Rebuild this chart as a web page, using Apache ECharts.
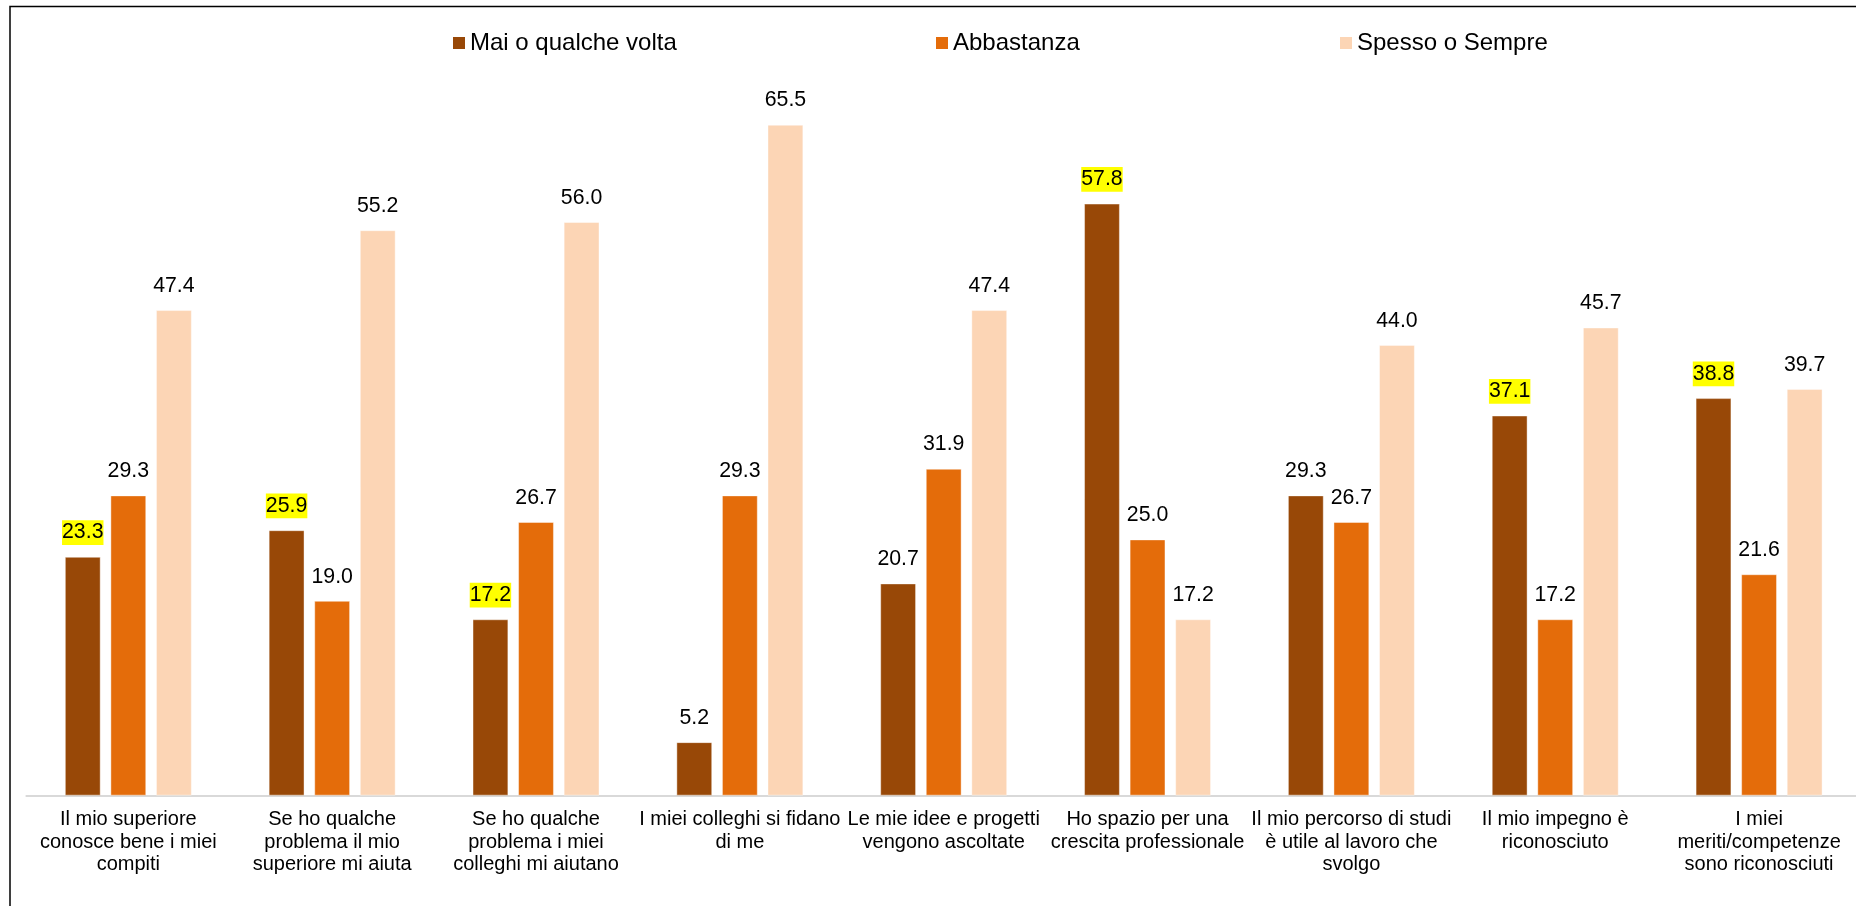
<!DOCTYPE html>
<html>
<head>
<meta charset="utf-8">
<style>
  html, body { margin: 0; padding: 0; background: #fff; overflow: hidden; }
  /* the plot runs slightly past the right edge of the window */
  #chart { width: 1861px; height: 906px; }
</style>
<script src="https://cdn.jsdelivr.net/npm/echarts@6/dist/echarts.min.js"></script>
</head>
<body>
<div id="chart"></div>
<script>
// Survey items (axis labels, wrapped as printed)
const categories = [
  'Il mio superiore\nconosce bene i miei\ncompiti',
  'Se ho qualche\nproblema il mio\nsuperiore mi aiuta',
  'Se ho qualche\nproblema i miei\ncolleghi mi aiutano',
  'I miei colleghi si fidano\ndi me',
  'Le mie idee e progetti\nvengono ascoltate',
  'Ho spazio per una\ncrescita professionale',
  'Il mio percorso di studi\nè utile al lavoro che\nsvolgo',
  'Il mio impegno è\nriconosciuto',
  'I miei\nmeriti/competenze\nsono riconosciuti'
];

const seriesNames = ['Mai o qualche volta', 'Abbastanza', 'Spesso o Sempre'];

// Percentages per answer group
const maiValues = [23.3, 25.9, 17.2, 5.2, 20.7, 57.8, 29.3, 37.1, 38.8];
const abbastanzaValues = [29.3, 19.0, 26.7, 29.3, 31.9, 25.0, 26.7, 17.2, 21.6];
const spessoValues = [47.4, 55.2, 56.0, 65.5, 47.4, 17.2, 44.0, 45.7, 39.7];

// Which "Mai o qualche volta" values carry a yellow highlight
const maiHighlighted = [true, true, true, false, false, true, false, true, true];

const colors = ['#984807', '#E46C0A', '#FCD5B5'];
const FONT = '"Liberation Sans", Arial, sans-serif';

const labelStyle = {
  show: true,
  position: 'top',
  distance: 12,
  color: '#000',
  fontFamily: FONT,
  fontSize: 21.3,
  lineHeight: 24.7,
  padding: [0, 0],
  formatter: p => Number(p.value).toFixed(1)
};

function barSeries(name, values, color, highlight) {
  return {
    name: name,
    type: 'bar',
    barWidth: 35.6,
    barGap: '28%',
    itemStyle: { color: color, borderColor: 'rgba(255,255,255,0.55)', borderWidth: 0.75 },
    label: labelStyle,
    data: values.map((v, i) => (highlight && highlight[i])
      ? { value: v, label: { backgroundColor: '#FFFF00' } }
      : v)
  };
}

function legendAt(name, left) {
  return {
    data: [name],
    left: left,
    top: 31,
    padding: 0,
    icon: 'rect',
    itemWidth: 12,
    itemHeight: 12,
    itemStyle: { borderWidth: 0 },
    textStyle: { fontFamily: FONT, fontSize: 24, lineHeight: 24, color: '#000' },
    selectedMode: false
  };
}

const chart = echarts.init(document.getElementById('chart'), null, { renderer: 'canvas' });

chart.setOption({
  animation: false,
  backgroundColor: '#fff',
  color: colors,
  legend: [
    legendAt(seriesNames[0], 453),
    legendAt(seriesNames[1], 936),
    legendAt(seriesNames[2], 1340)
  ],
  grid: { left: 26.4, top: 78.8, right: 0, height: 716.7, containLabel: false },
  xAxis: {
    type: 'category',
    data: categories,
    axisLine: { show: true, lineStyle: { color: '#D9D9D9', width: 2 } },
    axisTick: { show: false },
    axisLabel: {
      interval: 0,
      margin: 13,
      color: '#000',
      fontFamily: FONT,
      fontSize: 20,
      lineHeight: 22.5,
      align: 'center'
    }
  },
  yAxis: {
    type: 'value',
    min: 0,
    max: 70,
    show: false,
    splitLine: { show: false }
  },
  series: [
    barSeries(seriesNames[0], maiValues, colors[0], maiHighlighted),
    barSeries(seriesNames[1], abbastanzaValues, colors[1], null),
    barSeries(seriesNames[2], spessoValues, colors[2], null)
  ],
  graphic: [{
    type: 'rect',
    silent: true,
    shape: { x: 10, y: 6.5, width: 2000, height: 2000 },
    style: { fill: 'none', stroke: '#000', lineWidth: 1.5 }
  }]
});
</script>
</body>
</html>
